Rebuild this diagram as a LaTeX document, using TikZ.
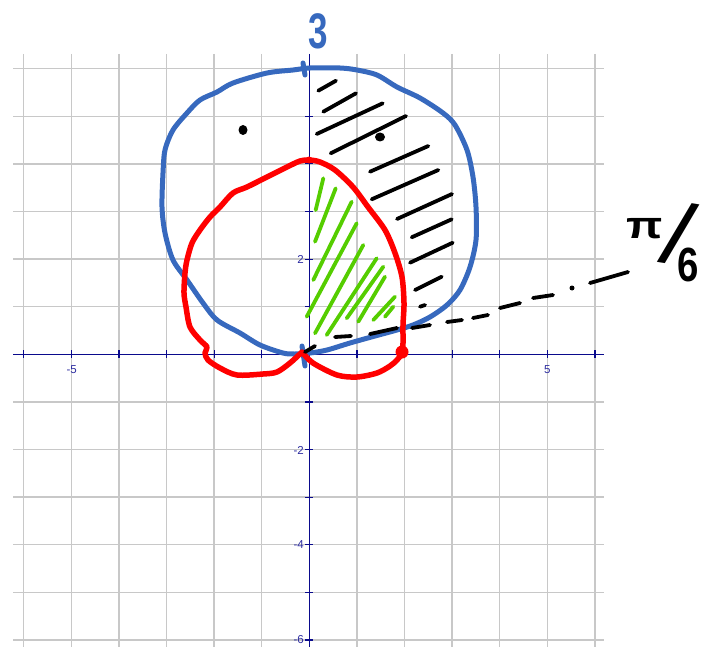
\documentclass[tikz,border=0pt]{standalone}
\usepackage{graphicx}
\usepackage{fontspec}
\setmainfont{Liberation Sans}
\definecolor{gridgray}{RGB}{200,200,200}
\definecolor{axisnavy}{RGB}{10,10,140}
\definecolor{ticklab}{RGB}{45,45,160}
\definecolor{penblue}{RGB}{55,105,190}
\definecolor{penred}{RGB}{255,0,0}
\definecolor{pengreen}{RGB}{85,205,0}
\begin{document}
\begin{tikzpicture}[x=1pt,y=-1pt,
  gridline/.style={draw=gridgray,line width=1.3pt},
  axisline/.style={draw=axisnavy,line width=1.2pt},
  ticklabel/.style={text=ticklab,font=\fontsize{11.5}{11.5}\selectfont,inner sep=0pt},
  bluepen/.style={draw=penblue,line width=5pt,line cap=round,line join=round},
  redpen/.style={draw=penred,line width=5.5pt,line cap=round,line join=round},
  greenpen/.style={draw=pengreen,line width=3.8pt,line cap=round},
  blackpen/.style={draw=black,line width=3.8pt,line cap=round},
  handtext/.style={inner sep=0pt,text=black}]
\useasboundingbox (0,0) rectangle (703,647);
% grid
\foreach \k in {-6,...,6}{
  \draw[gridline] ({309.3+47.6*\k},54) -- ({309.3+47.6*\k},647);
  \draw[gridline] (13,{354.3-47.6*\k}) -- (604,{354.3-47.6*\k});
}
% axes
\coordinate (xl) at (13,354.3);
\coordinate (xr) at (604,354.3);
\coordinate (yt) at (309.3,54);
\coordinate (yb) at (309.3,647);
\draw[axisline] (xl) -- (xr);
\draw[axisline] (yt) -- (yb);
\foreach \k in {-6,...,-1,1,2,...,6}{
  \draw[axisline] ({309.3+47.6*\k},350.3) -- ({309.3+47.6*\k},358.3);
  \draw[axisline] (305.3,{354.3-47.6*\k}) -- (313.3,{354.3-47.6*\k});
}
\node[ticklabel] (lxm5) at (71.7,369.5) {-5};
\node[ticklabel] (lxp5) at (547.3,369.5) {5};
\node[ticklabel,anchor=east] (ly2) at (304,259) {2};
\node[ticklabel,anchor=east] (lym2) at (304,450.5) {-2};
\node[ticklabel,anchor=east] (lym4) at (304,545) {-4};
\node[ticklabel,anchor=east] (lym6) at (304,639.5) {-6};
% blue curve
\draw[bluepen] plot[smooth cycle,tension=0.5] coordinates {
 (310,68) (340,68) (357,70) (377,75) (397,87) (420,98) (443,113) (455,125)
 (467,150) (473,177) (476,207) (476,240) (470,267) (460,290) (447,305)
 (430,317) (413,325) (397,330) (375,336) (350,343) (327,350) (310,353)
 (295,354) (283,353) (260,345) (240,333) (217,320) (203,303) (187,280)
 (173,260) (165,233) (162,207) (163,173) (165,150) (173,130) (187,113)
 (200,100) (217,92) (233,83) (267,73) (293,70)};
\draw[bluepen] (303,63) -- (305,75);
\draw[bluepen] (302,346) -- (305,366);
% red curve
\draw[redpen] plot[smooth,tension=0.5] coordinates {
 (302,352) (290,363) (277,372) (263,374) (237,375) (220,368) (208,360)
 (205,353) (207,347) (200,340) (190,327) (186,307) (184,293) (185,273)
 (187,260) (192,243) (200,230) (210,217) (220,207) (233,193) (247,187)
 (267,177) (287,167) (300,161) (309,160) (320,162) (335,170) (353,187)
 (368,207) (385,230) (395,253) (402,277) (404,303) (403,325) (403,343)
 (402,353) (397,360) (390,366) (377,373) (357,377) (337,375) (313,363)
 (302,352)};
\fill[penred] (402,352) circle (6.5);
\fill[penred] (309,160) circle (3.5);
% green hatching
\draw[greenpen] (323.3,178.3) -- (315.7,210);
\draw[greenpen] (335.7,188.3) -- (315,241.7);
\draw[greenpen] (351.7,201.7) -- (313.3,280);
\draw[greenpen] (356.7,223.3) -- (306.7,316.7);
\draw[greenpen] (363.3,245) -- (315,333.3);
\draw[greenpen] (376.7,258.3) -- (326.7,335);
\draw[greenpen] (383.3,266.7) -- (346.7,318.3);
\draw[greenpen] (385,276.7) -- (358.3,321.7);
\draw[greenpen] (395,296.7) -- (373.3,320);
\draw[greenpen] (393.3,306.7) -- (385,316.7);
% black hatching
\draw[blackpen] (318.3,90.7) -- (336,80.7);
\draw[blackpen] (323.3,111.7) -- (356,93.3);
\draw[blackpen] (316.7,134) -- (382.7,103.3);
\draw[blackpen] (330.7,153.3) -- (406,116);
\draw[blackpen] (370,171.7) -- (428.3,146);
\draw[blackpen] (371.7,199.3) -- (438.3,170);
\draw[blackpen] (397,219) -- (452,194);
\draw[blackpen] (411.7,237.3) -- (451.7,219.3);
\draw[blackpen] (410,262.7) -- (452.7,242.7);
\draw[blackpen] (415,290) -- (441.7,276.7);
\draw[blackpen] (420,306.7) -- (425,305);
\fill (380,137) ellipse (5 and 4.5);
\fill (243,130) ellipse (4.5 and 5);
% dashed ray
\draw[blackpen] (305,352) -- (315,346);
\draw[blackpen] (335,337) -- (351,336);
\draw[blackpen] (370,334) -- (397,328);
\draw[blackpen] (412,328) -- (430,325);
\draw[blackpen] (447,322) -- (462,320);
\draw[blackpen] (473,318) -- (488,315);
\draw[blackpen] (500,308) -- (520,303);
\draw[blackpen] (533,298) -- (553,295);
\fill (572,288) circle (2.5);
\draw[blackpen] (590,283) -- (628,272);
% labels
\node[inner sep=0pt,text=penblue,font=\fontsize{50}{50}\selectfont\bfseries,xscale=0.7] (three) at (318,31) {3};
\node[handtext,font=\fontsize{38}{38}\selectfont\bfseries,xscale=1.25] (pinum) at (645,229) {π};
\node[handtext,font=\fontsize{86}{86}\selectfont,xscale=1.2,rotate=-11] (slash) at (679,234) {/};
\node[handtext,font=\fontsize{48}{48}\selectfont\bfseries,xscale=0.8] (six) at (688,265) {6};
\end{tikzpicture}
\end{document}
